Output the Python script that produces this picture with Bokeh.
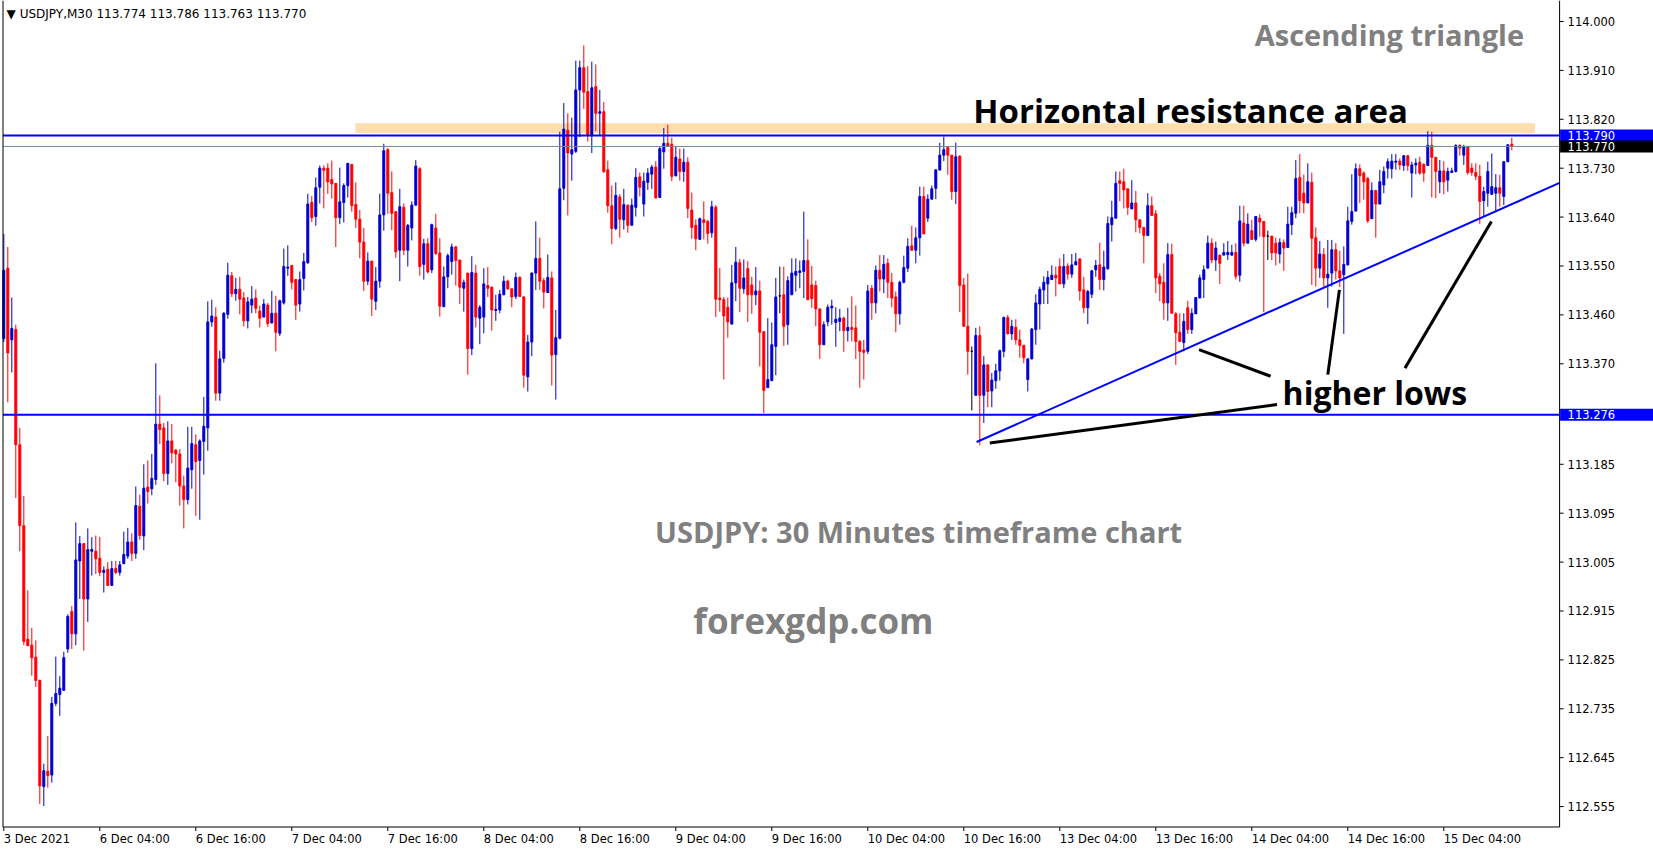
from bokeh.plotting import figure
from bokeh.models import Range1d, Label, ColumnDataSource
from bokeh.embed import file_html
from bokeh.resources import INLINE
from bokeh.core.properties import value

# ---------------- data (USDJPY M30) ----------------
opens = [
113.416,113.546,113.414,113.433,113.221,113.072,112.863,112.852,112.830,112.787,
112.592,112.620,112.613,112.745,112.761,112.769,112.845,112.914,112.873,113.007,
113.039,112.937,113.025,113.025,113.012,112.986,112.992,112.962,112.993,112.986,
113.002,113.016,113.042,113.021,113.108,113.053,113.143,113.140,113.157,113.259,
113.252,113.168,113.228,113.211,113.204,113.145,113.120,113.175,113.221,113.192,
113.227,113.252,113.447,113.456,113.316,113.380,113.461,113.532,113.499,113.507,
113.491,113.449,113.478,113.491,113.467,113.456,113.478,113.445,113.463,113.426,
113.482,113.546,113.551,113.525,113.480,113.527,113.556,113.667,113.641,113.695,
113.730,113.730,113.709,113.702,113.639,113.667,113.698,113.737,113.663,113.636,
113.594,113.522,113.559,113.485,113.522,113.644,113.764,113.685,113.650,113.579,
113.658,113.579,113.620,113.662,113.729,113.553,113.591,113.543,113.620,113.574,
113.475,113.530,113.558,113.585,113.561,113.509,113.537,113.398,113.537,113.454,
113.456,113.514,113.511,113.468,113.469,113.497,113.522,113.508,113.494,113.529,
113.493,113.346,113.410,113.537,113.564,113.523,113.501,113.528,113.387,113.417,
113.693,113.800,113.756,113.761,113.874,113.915,113.871,113.790,113.880,113.831,
113.834,113.727,113.661,113.619,113.677,113.635,113.662,113.625,113.658,113.714,
113.664,113.704,113.719,113.732,113.676,113.760,113.776,113.774,113.716,113.747,
113.724,113.741,113.653,113.625,113.599,113.635,113.632,113.611,113.658,113.491,
113.488,113.474,113.443,113.519,113.556,113.508,113.545,113.515,113.497,113.504,
113.429,113.326,113.339,113.402,113.495,113.497,113.442,113.497,113.533,113.538,
113.540,113.560,113.515,113.514,113.471,113.405,113.447,113.473,113.446,113.448,
113.454,113.431,113.437,113.436,113.411,113.395,113.393,113.509,113.482,113.542,
113.526,113.555,113.520,113.493,113.462,113.520,113.546,113.587,113.579,113.602,
113.678,113.638,113.673,113.693,113.727,113.754,113.768,113.754,113.687,113.752,
113.515,113.439,113.393,113.312,113.422,113.312,113.368,113.320,113.339,113.357,
113.393,113.455,113.425,113.437,113.414,113.404,113.341,113.379,113.433,113.480,
113.506,113.517,113.525,113.533,113.549,113.517,113.550,113.535,113.552,113.563,
113.506,113.473,113.498,113.543,113.552,113.525,113.545,113.626,113.638,113.707,
113.705,113.692,113.655,113.666,113.635,113.621,113.606,113.661,113.646,113.531,
113.520,113.482,113.571,113.462,113.428,113.409,113.473,113.433,113.462,113.491,
113.525,113.546,113.592,113.561,113.570,113.570,113.571,113.570,113.575,113.533,
113.629,113.592,113.615,113.599,113.638,113.632,113.605,113.605,113.592,113.572,
113.593,113.584,113.626,113.647,113.713,113.684,113.666,113.704,113.602,113.546,
113.571,113.528,113.537,113.580,113.541,113.534,113.552,113.632,113.651,113.729,
113.721,113.711,113.637,113.689,113.664,113.699,113.730,113.729,113.741,113.743,
113.735,113.753,113.721,113.736,113.741,113.737,113.735,113.772,113.750,113.705,
113.725,113.708,113.722,113.724,113.772,113.754,113.770,113.730,113.722,113.715,
113.670,113.684,113.682,113.684,113.694,113.678,113.742,113.774]

highs = [
113.609,113.585,113.492,113.442,113.252,113.127,112.953,112.884,112.861,112.789,
112.634,112.685,112.757,112.831,112.795,112.840,112.909,112.924,113.078,113.053,
113.039,113.067,113.051,113.054,113.051,112.997,113.005,113.007,113.007,113.007,
113.061,113.068,113.058,113.144,113.129,113.185,113.192,113.204,113.371,113.312,
113.261,113.264,113.259,113.213,113.213,113.164,113.254,113.254,113.240,113.231,
113.309,113.485,113.488,113.474,113.394,113.465,113.556,113.539,113.528,113.530,
113.502,113.493,113.513,113.507,113.477,113.489,113.482,113.504,113.495,113.488,
113.582,113.588,113.551,113.525,113.540,113.574,113.683,113.679,113.713,113.735,
113.735,113.739,113.744,113.702,113.731,113.702,113.739,113.737,113.704,113.653,
113.620,113.575,113.559,113.548,113.683,113.775,113.767,113.724,113.650,113.692,
113.665,113.627,113.669,113.745,113.732,113.600,113.601,113.628,113.646,113.601,
113.549,113.573,113.591,113.587,113.561,113.525,113.537,113.568,113.552,113.478,
113.546,113.548,113.512,113.497,113.506,113.532,113.525,113.508,113.538,113.531,
113.495,113.423,113.538,113.632,113.602,113.528,113.571,113.540,113.469,113.797,
113.850,113.831,113.823,113.928,113.928,113.956,113.918,113.926,113.921,113.874,
113.852,113.744,113.698,113.704,113.682,113.692,113.662,113.674,113.730,113.722,
113.722,113.730,113.736,113.743,113.770,113.804,113.810,113.786,113.771,113.766,
113.766,113.750,113.685,113.636,113.639,113.669,113.635,113.670,113.662,113.546,
113.493,113.492,113.552,113.585,113.563,113.562,113.559,113.530,113.548,113.523,
113.430,113.454,113.446,113.528,113.549,113.549,113.531,113.564,113.564,113.560,
113.650,113.599,113.550,113.523,113.471,113.448,113.479,113.488,113.474,113.471,
113.457,113.473,113.494,113.477,113.414,113.414,113.515,113.515,113.551,113.570,
113.570,113.564,113.537,113.503,113.523,113.569,113.601,113.624,113.621,113.696,
113.696,113.682,113.698,113.727,113.777,113.788,113.770,113.754,113.777,113.754,
113.528,113.536,113.402,113.436,113.439,113.384,113.368,113.353,113.370,113.396,
113.457,113.460,113.451,113.452,113.433,113.404,113.380,113.436,113.498,113.512,
113.531,113.541,113.551,113.549,113.564,113.572,113.555,113.572,113.574,113.564,
113.530,113.506,113.543,113.561,113.593,113.578,113.641,113.670,113.724,113.724,
113.729,113.692,113.708,113.688,113.635,113.621,113.684,113.678,113.653,113.537,
113.555,113.592,113.591,113.465,113.463,113.463,113.486,113.472,113.492,113.534,
113.551,113.606,113.601,113.595,113.570,113.592,113.596,113.589,113.592,113.661,
113.661,113.647,113.635,113.642,113.645,113.632,113.615,113.605,113.602,113.601,
113.599,113.659,113.659,113.745,113.756,113.718,113.739,113.722,113.621,113.596,
113.583,113.598,113.598,113.592,113.578,113.586,113.659,113.719,113.739,113.737,
113.724,113.714,113.704,113.689,113.727,113.733,113.748,113.756,113.756,113.748,
113.754,113.754,113.742,113.748,113.751,113.739,113.798,113.797,113.750,113.745,
113.743,113.731,113.731,113.774,113.774,113.773,113.770,113.739,113.739,113.736,
113.696,113.742,113.757,113.719,113.718,113.742,113.774,113.786]

lows = [
113.410,113.299,113.354,113.123,113.025,112.852,112.851,112.796,112.775,112.560,
112.556,112.590,112.599,112.740,112.722,112.768,112.838,112.845,112.852,112.937,
112.842,112.895,112.980,112.983,112.979,112.949,112.962,112.962,112.983,112.980,
113.002,113.011,113.007,113.011,113.046,113.027,113.113,113.128,113.147,113.222,
113.154,113.147,113.187,113.152,113.109,113.067,113.111,113.140,113.090,113.083,
113.166,113.210,113.438,113.302,113.302,113.372,113.453,113.493,113.486,113.461,
113.439,113.435,113.463,113.463,113.437,113.456,113.438,113.445,113.393,113.421,
113.479,113.532,113.507,113.451,113.466,113.505,113.554,113.631,113.624,113.665,
113.656,113.683,113.674,113.585,113.627,113.630,113.676,113.650,113.620,113.564,
113.504,113.515,113.458,113.469,113.510,113.615,113.646,113.616,113.565,113.522,
113.570,113.549,113.597,113.661,113.532,113.525,113.536,113.537,113.570,113.457,
113.475,113.509,113.534,113.514,113.480,113.466,113.350,113.386,113.437,113.406,
113.426,113.493,113.431,113.449,113.463,113.496,113.506,113.474,113.489,113.494,
113.326,113.319,113.384,113.506,113.506,113.472,113.501,113.330,113.304,113.415,
113.671,113.643,113.707,113.758,113.787,113.839,113.779,113.758,113.798,113.790,
113.721,113.648,113.590,113.616,113.602,113.617,113.611,113.624,113.641,113.678,
113.641,113.690,113.692,113.675,113.676,113.729,113.769,113.706,113.715,113.707,
113.705,113.638,113.600,113.579,113.599,113.599,113.591,113.602,113.456,113.466,
113.341,113.418,113.443,113.485,113.465,113.499,113.447,113.462,113.478,113.365,
113.279,113.326,113.338,113.349,113.463,113.403,113.405,113.497,113.503,113.509,
113.491,113.487,113.473,113.439,113.379,113.405,113.439,113.442,113.401,113.430,
113.392,113.411,113.411,113.379,113.326,113.341,113.388,113.451,113.463,113.503,
113.500,113.491,113.474,113.428,113.442,113.518,113.539,113.579,113.555,113.569,
113.609,113.631,113.673,113.673,113.725,113.743,113.718,113.672,113.664,113.465,
113.439,113.350,113.284,113.312,113.220,113.261,113.290,113.290,113.324,113.339,
113.382,113.425,113.414,113.405,113.381,113.371,113.319,113.378,113.405,113.433,
113.480,113.480,113.525,113.494,113.517,113.509,113.525,113.528,113.552,113.486,
113.463,113.443,113.491,113.530,113.506,113.505,113.543,113.595,113.638,113.669,
113.656,113.644,113.655,113.612,113.610,113.555,113.606,113.643,113.500,113.485,
113.451,113.449,113.463,113.368,113.411,113.393,113.425,113.425,113.462,113.491,
113.491,113.546,113.555,113.541,113.517,113.570,113.561,113.569,113.525,113.521,
113.586,113.592,113.598,113.595,113.604,113.465,113.561,113.561,113.551,113.555,
113.541,113.583,113.607,113.638,113.647,113.647,113.666,113.515,113.512,113.528,
113.512,113.473,113.512,113.525,113.511,113.425,113.551,113.626,113.651,113.666,
113.672,113.629,113.637,113.602,113.664,113.684,113.711,113.711,113.727,113.727,
113.725,113.725,113.676,113.719,113.718,113.705,113.735,113.676,113.675,113.684,
113.682,113.687,113.722,113.722,113.753,113.736,113.718,113.716,113.708,113.627,
113.641,113.659,113.681,113.650,113.659,113.662,113.741,113.763]

closes = [
113.542,113.390,113.435,113.221,113.072,112.859,112.851,112.829,112.787,112.593,
112.621,112.612,112.745,112.763,112.773,112.829,112.905,112.873,113.009,113.039,
112.937,113.028,113.028,113.011,112.986,112.990,112.962,112.993,112.986,113.000,
113.019,113.042,113.021,113.109,113.054,113.141,113.135,113.159,113.259,113.249,
113.168,113.228,113.206,113.204,113.145,113.120,113.178,113.223,113.190,113.228,
113.255,113.447,113.458,113.316,113.379,113.463,113.533,113.499,113.507,113.489,
113.449,113.484,113.489,113.472,113.454,113.480,113.444,113.463,113.428,113.486,
113.549,113.548,113.520,113.478,113.525,113.558,113.664,113.639,113.694,113.730,
113.726,113.705,113.701,113.639,113.668,113.698,113.739,113.661,113.636,113.594,
113.522,113.559,113.489,113.522,113.644,113.762,113.684,113.647,113.576,113.659,
113.579,113.625,113.662,113.734,113.549,113.591,113.539,113.626,113.573,113.476,
113.530,113.569,113.585,113.560,113.511,113.520,113.398,113.538,113.456,113.474,
113.517,113.509,113.469,113.470,113.498,113.522,113.508,113.493,113.529,113.494,
113.349,113.410,113.537,113.564,113.522,113.502,113.529,113.386,113.418,113.692,
113.802,113.758,113.764,113.874,113.915,113.870,113.790,113.878,113.831,113.834,
113.724,113.661,113.619,113.680,113.636,113.663,113.625,113.662,113.713,113.695,
113.706,113.721,113.732,113.675,113.766,113.776,113.771,113.715,113.750,113.724,
113.741,113.656,113.621,113.600,113.637,113.630,113.610,113.659,113.489,113.488,
113.458,113.447,113.519,113.557,113.509,113.528,113.497,113.497,113.504,113.428,
113.321,113.341,113.405,113.493,113.495,113.439,113.523,113.537,113.540,113.541,
113.560,113.488,113.490,113.471,113.405,113.442,113.474,113.476,113.452,113.454,
113.431,113.437,113.433,113.411,113.393,113.391,113.504,113.482,113.542,113.526,
113.553,113.520,113.491,113.462,113.520,113.547,113.586,113.579,113.602,113.678,
113.609,113.673,113.692,113.727,113.754,113.764,113.754,113.687,113.751,113.514,
113.439,113.393,113.393,113.422,113.312,113.368,113.319,113.340,113.357,113.394,
113.455,113.425,113.439,113.414,113.404,113.381,113.379,113.434,113.482,113.507,
113.520,113.529,113.533,113.528,113.517,113.549,113.535,113.552,113.558,113.504,
113.473,113.503,113.541,113.551,113.525,113.548,113.628,113.639,113.702,113.702,
113.690,113.658,113.666,113.635,113.621,113.606,113.661,113.643,113.528,113.517,
113.482,113.571,113.463,113.427,113.411,113.448,113.433,113.463,113.492,113.528,
113.543,113.592,113.561,113.583,113.555,113.575,113.575,113.575,113.531,113.633,
113.592,113.627,113.599,113.641,113.631,113.604,113.605,113.574,113.574,113.593,
113.583,113.627,113.648,113.711,113.670,113.666,113.705,113.601,113.546,113.572,
113.528,113.535,113.580,113.541,113.528,113.553,113.633,113.650,113.729,113.716,
113.705,113.633,113.689,113.664,113.705,113.724,113.742,113.743,113.743,113.736,
113.753,113.735,113.736,113.739,113.721,113.721,113.772,113.750,113.724,113.725,
113.705,113.724,113.725,113.772,113.767,113.770,113.722,113.722,113.715,113.669,
113.687,113.724,113.696,113.694,113.684,113.742,113.773,113.770]

x_tick_labels = ["3 Dec 2021", "6 Dec 04:00", "6 Dec 16:00", "7 Dec 04:00", "7 Dec 16:00",
                 "8 Dec 04:00", "8 Dec 16:00", "9 Dec 04:00", "9 Dec 16:00", "10 Dec 04:00",
                 "10 Dec 16:00", "13 Dec 04:00", "13 Dec 16:00", "14 Dec 04:00", "14 Dec 16:00",
                 "15 Dec 04:00"]
bars_per_label = 24
y_tick_values = [114.000, 113.910, 113.820, 113.730, 113.640, 113.550, 113.460, 113.370,
                 113.185, 113.095, 113.005, 112.915, 112.825, 112.735, 112.645, 112.555]

resistance_level = 113.790
bid_level = 113.770
support_level = 113.276
band_top, band_bottom = 113.8126, 113.7943
band_from_bar, band_to_bar = 87.9, 382.8
trend_bars = [243.2, 388.95]
trend_prices = [113.226, 113.703]
pointer_x0 = [246.5, 298.8, 331.0, 350.3]
pointer_y0 = [113.224, 113.396, 113.350, 113.362]
pointer_x1 = [318.3, 316.7, 333.9, 371.9]
pointer_y1 = [113.295, 113.347, 113.506, 113.632]
header_text = "\u25BC USDJPY,M30  113.774 113.786 113.763 113.770"

# ---------------- layout of the chart window (bars / prices) ----------------
X_START, X_END = -0.825, 412.425          # whole window, 4 px per bar
Y_START, Y_END = 112.47414, 114.03865     # whole window height
CHART_LEFT = -0.2                          # left border of the candle area
CHART_RIGHT = 388.95                       # right border (price scale starts here)
CHART_BOTTOM = 112.51739                   # bottom border (time scale below)
PX_Y = 1.0 / 543.3                         # one pixel in price units
PX_X = 0.25                                # one pixel in bar units
SCALE_FONT = "11.5px"

BULL = "#0000CD"
BEAR = "#FF0000"
idx = list(range(len(opens)))
colors, tops, bottoms, hi, lo = [], [], [], [], []
for o, h, l, c in zip(opens, highs, lows, closes):
    colors.append(BULL if c > o else (BEAR if c < o else "#000000"))
    tops.append(max(o, c))
    bottoms.append(min(o, c))
    hi.append(max(h, o, c))
    lo.append(min(l, o, c))
src = ColumnDataSource(dict(x=idx, top=tops, bottom=bottoms, high=hi, low=lo, color=colors))

p = figure(width=1653, height=850,
           x_range=Range1d(X_START, X_END), y_range=Range1d(Y_START, Y_END),
           output_backend="svg", toolbar_location=None,
           x_axis_type=None, y_axis_type=None, min_border=0,
           background_fill_color="white", border_fill_color="white")
p.outline_line_color = None

# resistance band (under candles)
p.quad(left=[band_from_bar], right=[band_to_bar], top=[band_top], bottom=[band_bottom],
       fill_color="#FFDEAD", line_color=None)

# candles
p.segment(x0="x", y0="low", x1="x", y1="high", line_color="color", line_width=1, source=src)
p.vbar(x="x", width=0.5, top="top", bottom="bottom", fill_color="color",
       line_color="color", line_width=1, source=src)

# horizontal levels across the candle area
p.segment(x0=[CHART_LEFT] * 3, x1=[CHART_RIGHT] * 3,
          y0=[resistance_level, bid_level, support_level],
          y1=[resistance_level, bid_level, support_level],
          line_color=["#0000FF", "#778899", "#0000FF"], line_width=[2, 1, 2])

# trend line and pointer lines
p.line(trend_bars, trend_prices, line_color="#0000FF", line_width=2)
p.segment(x0=pointer_x0, y0=pointer_y0, x1=pointer_x1, y1=pointer_y1,
          line_color="black", line_width=3)

# chart frame
p.segment(x0=[CHART_LEFT, CHART_RIGHT, CHART_LEFT], x1=[CHART_LEFT, CHART_RIGHT, CHART_RIGHT],
          y0=[CHART_BOTTOM, CHART_BOTTOM, CHART_BOTTOM], y1=[Y_END, Y_END, CHART_BOTTOM],
          line_color="black", line_width=1)

# price scale (right)
p.segment(x0=[CHART_RIGHT] * len(y_tick_values), x1=[CHART_RIGHT + 4 * PX_X] * len(y_tick_values),
          y0=y_tick_values, y1=y_tick_values, line_color="black", line_width=1)
p.text(x=[CHART_RIGHT + 8 * PX_X] * len(y_tick_values), y=y_tick_values,
       text=["%.3f" % v for v in y_tick_values],
       text_font=value("DejaVu Sans"), text_font_size=value(SCALE_FONT), text_color="black",
       text_align="left", text_baseline="middle")

# time scale (bottom)
x_ticks = [k * bars_per_label for k in range(len(x_tick_labels))]
p.segment(x0=x_ticks, x1=x_ticks, y0=[CHART_BOTTOM] * len(x_ticks),
          y1=[CHART_BOTTOM - 4 * PX_Y] * len(x_ticks), line_color="black", line_width=1)
p.text(x=x_ticks, y=[CHART_BOTTOM - 11.5 * PX_Y] * len(x_ticks), text=x_tick_labels,
       text_font=value("DejaVu Sans"), text_font_size=value(SCALE_FONT), text_color="black",
       text_align="left", text_baseline="middle")

# price boxes on the scale
box_levels = [resistance_level, bid_level, support_level]
box_texts = ["113.790", "113.770", "113.276"]
box_colors = ["#0000FF", "#000000", "#0000FF"]
p.quad(left=[CHART_RIGHT + 0.5 * PX_X] * 3, right=[X_END] * 3,
       top=[v + 6 * PX_Y for v in box_levels], bottom=[v - 6 * PX_Y for v in box_levels],
       fill_color=box_colors, line_color=None)
p.text(x=[CHART_RIGHT + 8 * PX_X] * 3, y=box_levels, text=box_texts,
       text_font=value("DejaVu Sans"), text_font_size=value(SCALE_FONT), text_color="white",
       text_align="left", text_baseline="middle")

# header
p.text(x=[0.7], y=[114.0142], text=[header_text], text_font=value("DejaVu Sans"),
       text_font_size=value("12px"), text_color="black", text_align="left",
       text_baseline="middle")

# annotations
def ann(x, y, t, size, color, align="center"):
    p.add_layout(Label(x=x, y=y, text=t, text_font="Open Sans", text_font_style="bold",
                       text_font_size=size, text_color=color, text_align=align,
                       text_baseline="alphabetic"))

ann(346.4, 113.9766, "Ascending triangle", "29px", "#808080")
ann(296.7, 113.8368, "Horizontal resistance area", "33px", "black")
ann(319.7, 113.3172, "higher lows", "32px", "black", align="left")
ann(228.7, 113.0613, "USDJPY: 30 Minutes timeframe chart", "29px", "#808080")
ann(202.4, 112.8975, "forexgdp.com", "35px", "#808080")

open("out.html", "w").write(file_html(p, INLINE))
